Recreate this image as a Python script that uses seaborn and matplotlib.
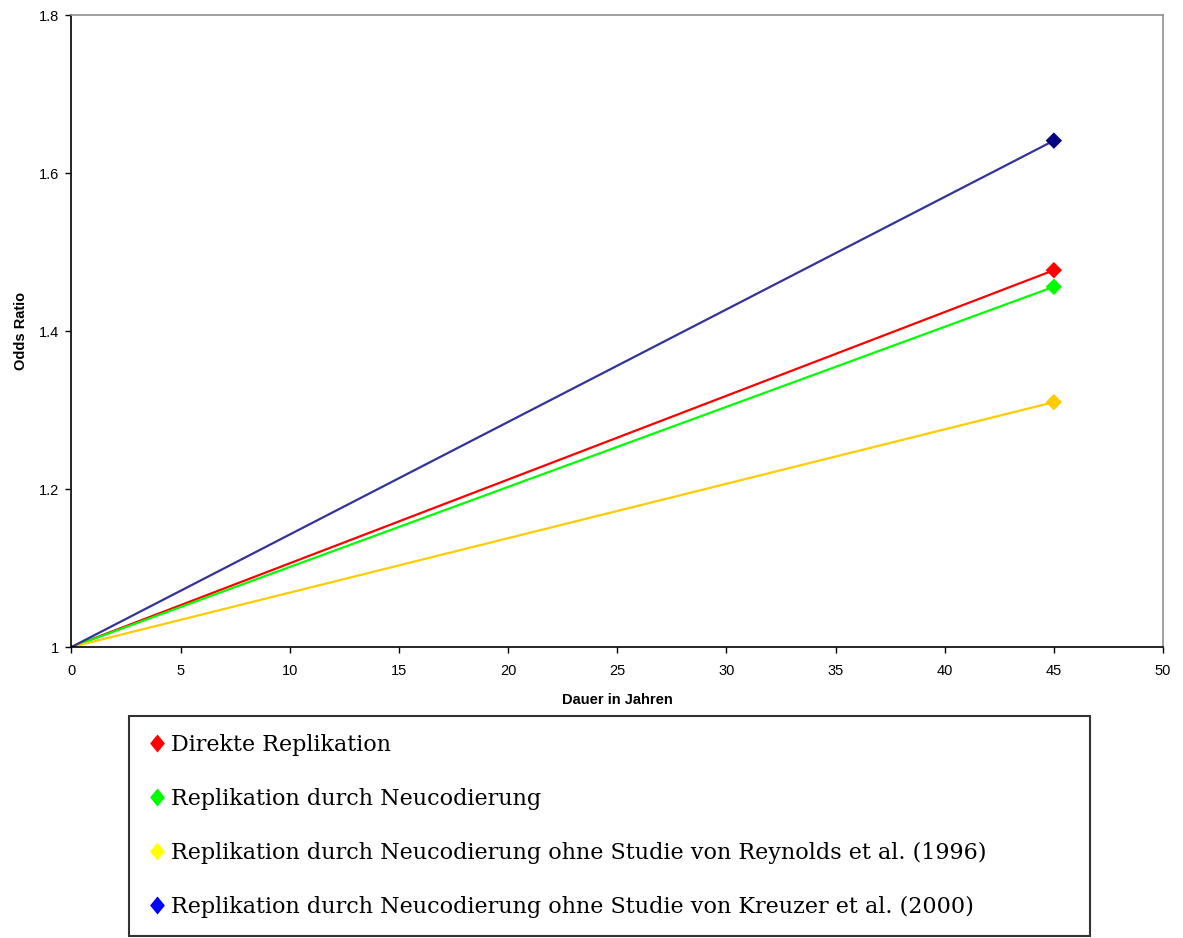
import matplotlib
matplotlib.use("Agg")
import matplotlib.pyplot as plt
from matplotlib.lines import Line2D
from matplotlib.path import Path
from matplotlib.ticker import FuncFormatter
import seaborn as sns
import pandas as pd

# Series: odds ratio after 45 years of exposure, starting from OR = 1 at year 0
series = [
    "Direkte Replikation",
    "Replikation durch Neucodierung",
    "Replikation durch Neucodierung ohne Studie von Reynolds et al. (1996)",
    "Replikation durch Neucodierung ohne Studie von Kreuzer et al. (2000)",
]
years = [0, 45]
odds_start = [1.0, 1.0, 1.0, 1.0]
odds_end = [1.477, 1.456, 1.310, 1.641]

line_colors = ["#FF0000", "#00FF00", "#FFCC00", "#333399"]
marker_colors = ["#FF0000", "#00FF00", "#FFCC00", "#000080"]
legend_colors = ["#FF0000", "#00FF00", "#FFFF00", "#0000FF"]

x_ticks = [0, 5, 10, 15, 20, 25, 30, 35, 40, 45, 50]
y_ticks = [1.0, 1.2, 1.4, 1.6, 1.8]

rows = []
for name, s, e in zip(series, odds_start, odds_end):
    rows.append({"Serie": name, "Jahre": years[0], "OR": s})
    rows.append({"Serie": name, "Jahre": years[1], "OR": e})
df = pd.DataFrame(rows)
df_end = df[df["Jahre"] == years[1]]

sns.set_style("white")
plt.rcParams["font.family"] = ["Liberation Sans", "DejaVu Sans"]
plt.rcParams["text.color"] = "black"

fig = plt.figure(figsize=(11.83, 9.38), dpi=100)
ax = fig.add_axes([0.0604, 0.3102, 0.9227, 0.6738])

sns.lineplot(data=df, x="Jahre", y="OR", hue="Serie", palette=dict(zip(series, line_colors)),
             linewidth=1.6, legend=False, ax=ax)
sns.scatterplot(data=df_end, x="Jahre", y="OR", hue="Serie", palette=dict(zip(series, marker_colors)),
                marker="D", s=70, edgecolor="none", legend=False, ax=ax, zorder=5)

ax.set_xlim(0, 50)
ax.set_ylim(1.0, 1.8)
ax.set_xticks(x_ticks)
ax.set_yticks(y_ticks)
ax.yaxis.set_major_formatter(FuncFormatter(lambda v, p: f"{v:g}"))
ax.tick_params(axis="both", direction="out", length=4, width=1, colors="black",
               labelcolor="black", labelsize=10.5, left=True, bottom=True)
ax.tick_params(axis="x", pad=8)
ax.tick_params(axis="y", pad=5)

for side in ["left", "bottom"]:
    ax.spines[side].set_color("black")
    ax.spines[side].set_linewidth(1.2)
for side in ["top", "right"]:
    ax.spines[side].set_visible(True)
    ax.spines[side].set_color("#909090")
    ax.spines[side].set_linewidth(1.2)

ax.set_xlabel("Dauer in Jahren", fontsize=10.5, fontweight="bold", labelpad=11, color="black")
ax.set_ylabel("Odds Ratio", fontsize=10.5, fontweight="bold", labelpad=8, color="black")

# slightly tall diamond for the legend keys
diamond = Path([(0, 1), (0.82, 0), (0, -1), (-0.82, 0), (0, 1)],
               [Path.MOVETO, Path.LINETO, Path.LINETO, Path.LINETO, Path.CLOSEPOLY])
handles = [Line2D([], [], linestyle="none", marker=diamond, markersize=13, markeredgewidth=0,
                  markerfacecolor=c) for c in legend_colors]
leg = fig.legend(handles, series, loc="upper left",
                 bbox_to_anchor=(0.109, 0.0, 0.8125, 0.2367), mode="expand",
                 prop={"family": "DejaVu Serif", "size": 16}, frameon=True, fancybox=False,
                 borderpad=0.8, labelspacing=1.44, handlelength=0.93, handletextpad=0.17,
                 borderaxespad=0.0)
for t in leg.get_texts():
    t.set_color("black")
leg.get_frame().set_edgecolor("black")
leg.get_frame().set_linewidth(1.5)

fig.savefig("out.png", dpi=100, facecolor="white")
